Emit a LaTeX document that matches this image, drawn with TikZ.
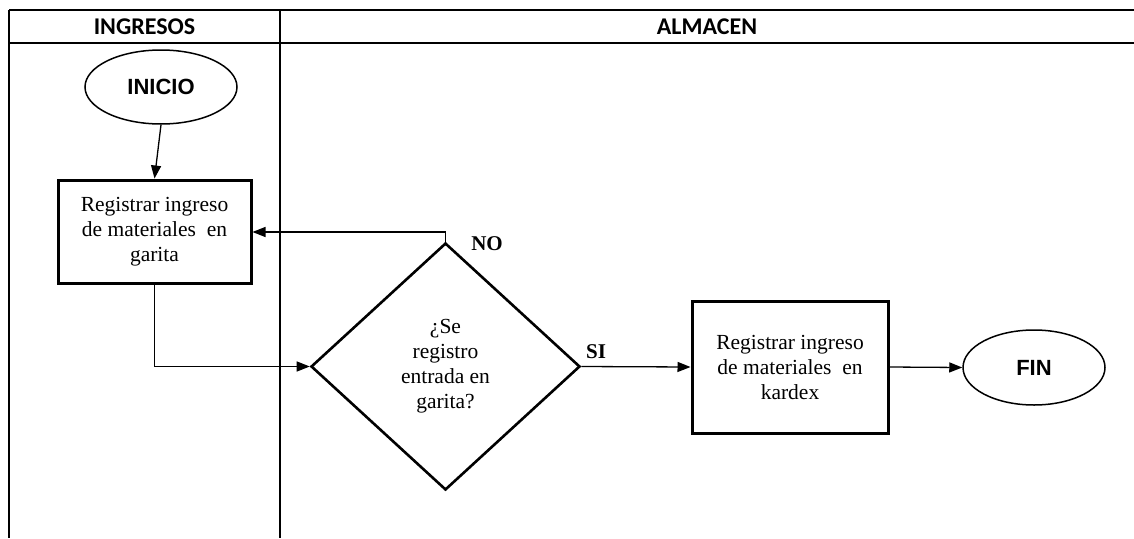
\documentclass[tikz,border=0pt]{standalone}
\usepackage{fontspec}
\setmainfont{Liberation Serif}
\newfontfamily\headfont{Carlito}
\newfontfamily\termfont{Liberation Sans}
\usetikzlibrary{shapes.geometric,arrows.meta}
\begin{document}
\begin{tikzpicture}[x=1pt,y=-1pt,
  frame/.style={line width=1.4pt},
  headline/.style={line width=2.2pt},
  headtext/.style={font=\headfont\fontsize{24}{26}\selectfont\bfseries},
  terminal/.style={draw,ellipse,line width=1.5pt,inner sep=0pt,
    font=\termfont\fontsize{22}{24}\selectfont\bfseries},
  process/.style={draw,rectangle,line width=3pt,inner sep=0pt,align=center,
    font=\fontsize{21.5}{25}\selectfont},
  decision/.style={draw,diamond,line width=2.6pt,inner sep=0pt,align=center,
    font=\fontsize{21.5}{25}\selectfont},
  flow/.style={line width=1.3pt,-{Triangle[length=13pt,width=10pt]}},
  answer/.style={font=\fontsize{21}{22}\selectfont\bfseries}]
\useasboundingbox (0,0) rectangle (1134,538);
\fill[white] (0,0) rectangle (1134,538);

% swimlane frame
\draw[headline] (9,10) -- (1134,10);
\draw[headline] (9,43) -- (1134,43);
\draw[frame] (9,10) -- (9,538);
\draw[frame] (280,10) -- (280,538);
\node[headtext] (laneA) at (144.5,27) {INGRESOS};
\node[headtext] (laneB) at (707,27) {ALMACEN};

% flow elements
\node[terminal,minimum width=152pt,minimum height=74pt] (inicio) at (161,87) {INICIO};
\node[process,minimum width=193pt,minimum height=103pt] (garita) at (154.5,231.5)
  {Registrar ingreso\\de materiales\ \ en\\garita};
\node[decision,minimum width=269pt,minimum height=247pt,aspect=1.09] (check) at (445.5,366.5)
  {¿Se\\registro\\entrada en\\garita?};
\node[process,minimum width=196pt,minimum height=132pt] (kardex) at (790,367)
  {Registrar ingreso\\de materiales\ \ en\\kardex};
\node[terminal,minimum width=142pt,minimum height=75pt] (fin) at (1034,367.5) {FIN};

% connectors
\coordinate (noturn) at (check.north |- 0,232);
\draw[flow] (inicio.south) -- (garita.north);
\draw[flow] (garita.south) |- (check.west);
\draw[flow] (check.north) -- (noturn) -- (noturn -| garita.east);
\draw[flow] (check.east) -- (kardex.west);
\draw[flow] (kardex.east) -- (fin.west);

% answer labels
\node[answer] (no) at (487,244) {NO};
\node[answer] (si) at (596,352) {SI};
\end{tikzpicture}
\end{document}
